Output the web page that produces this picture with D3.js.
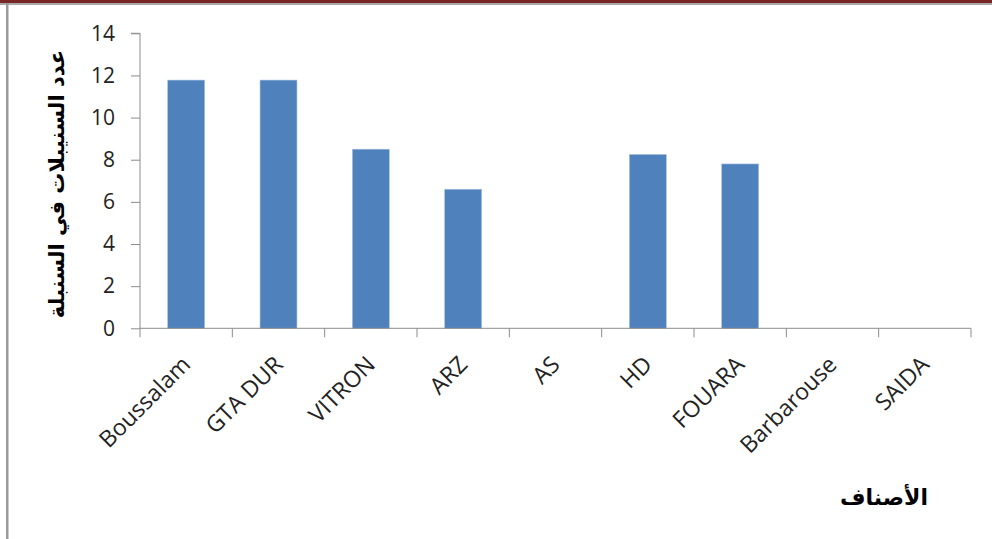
<!DOCTYPE html>
<html>
<head>
<meta charset="utf-8">
<script src="https://cdn.jsdelivr.net/npm/d3@7"></script>
<style>
  html, body { margin: 0; padding: 0; background: #fff; }
  svg { display: block; }
</style>
</head>
<body>
<svg id="chart" width="992" height="539"></svg>
<script>
// Varieties and spikelets-per-spike counts
const categories = ["Boussalam", "GTA DUR", "VITRON", "ARZ", "AS", "HD", "FOUARA", "Barbarouse", "SAIDA"];
const values = [11.78, 11.78, 8.5, 6.6, 0, 8.25, 7.8, 0, 0];
const yTicks = [0, 2, 4, 6, 8, 10, 12, 14];
const yTitle = "عدد السنيبلات في السنبلة";
const xTitle = "الأصناف";

const svg = d3.select("#chart");
const W = 992, H = 539;

// Page frame: dark band on top, grey rule under it, grey left border
svg.append("rect").attr("x", 0).attr("y", 0).attr("width", W).attr("height", 3).attr("fill", "#7b2626");
svg.append("rect").attr("x", 0).attr("y", 3).attr("width", W).attr("height", 2).attr("fill", "#a8a8a8");
svg.append("rect").attr("x", 6).attr("y", 3).attr("width", 2.5).attr("height", H - 3).attr("fill", "#9a9a9a");

const plot = { left: 140, right: 971, top: 33.3, bottom: 328.3 };

const x = d3.scaleBand().domain(categories).range([plot.left, plot.right]).paddingInner(0.6).paddingOuter(0.3);
const xBand = d3.scaleBand().domain(categories).range([plot.left, plot.right]);
const y = d3.scaleLinear().domain([0, 14]).range([plot.bottom, plot.top]);

const axisColor = "#8c8c8c";
const labelFont = "'Open Sans', 'Liberation Sans', sans-serif";

// Y axis
const yAxis = svg.append("g")
  .attr("transform", `translate(${plot.left},0)`)
  .call(d3.axisLeft(y).tickValues(yTicks).tickSize(9).tickPadding(16).tickFormat(d3.format("d")));
yAxis.attr("font-size", null).attr("font-family", null);
yAxis.select(".domain").attr("stroke", axisColor).attr("d", `M-9,${plot.top}H0V${plot.bottom}`);
yAxis.selectAll(".tick line").attr("stroke", axisColor);
yAxis.selectAll(".tick text").attr("fill", "#222").style("font-family", labelFont).style("font-size", "21px");

// Bars
svg.append("g").selectAll("rect")
  .data(categories.map((c, i) => ({ c, v: values[i] })).filter(d => d.v > 0))
  .join("rect")
  .attr("x", d => x(d.c))
  .attr("y", d => y(d.v))
  .attr("width", x.bandwidth())
  .attr("height", d => y(0) - y(d.v))
  .attr("fill", "#4f81bd")
  .attr("stroke", "#a7c0de")
  .attr("stroke-width", 0.6);

// X axis: ticks at category boundaries
const xg = svg.append("g");
xg.append("line").attr("x1", plot.left).attr("x2", plot.right).attr("y1", plot.bottom).attr("y2", plot.bottom).attr("stroke", axisColor);
const bounds = categories.map(c => xBand(c)).concat([plot.right]);
xg.selectAll("line.tk").data(bounds).join("line").attr("class", "tk")
  .attr("x1", d => d).attr("x2", d => d).attr("y1", plot.bottom).attr("y2", plot.bottom + 9)
  .attr("stroke", axisColor);

// Rotated category labels
xg.selectAll("text").data(categories).join("text")
  .attr("transform", c => `translate(${xBand(c) + xBand.bandwidth() / 2},${plot.bottom + 32}) rotate(-45)`)
  .attr("text-anchor", "end")
  .attr("dy", "0.35em")
  .attr("fill", "#222")
  .style("font-family", labelFont)
  .style("font-size", "23px")
  .text(c => c);

// Axis titles
svg.append("text")
  .attr("transform", `translate(57,${(50 + 318) / 2}) rotate(-90)`)
  .attr("text-anchor", "middle")
  .attr("dy", "0.35em")
  .attr("direction", "rtl")
  .style("font-family", "'DejaVu Sans', sans-serif")
  .style("font-weight", "bold")
  .style("font-size", "21px")
  .attr("fill", "#000")
  .text(yTitle);

svg.append("text")
  .attr("x", 884).attr("y", 497)
  .attr("text-anchor", "middle")
  .attr("dy", "0.35em")
  .attr("direction", "rtl")
  .style("font-family", "'DejaVu Sans', sans-serif")
  .style("font-weight", "bold")
  .style("font-size", "22px")
  .attr("fill", "#000")
  .text(xTitle);
</script>
</body>
</html>
